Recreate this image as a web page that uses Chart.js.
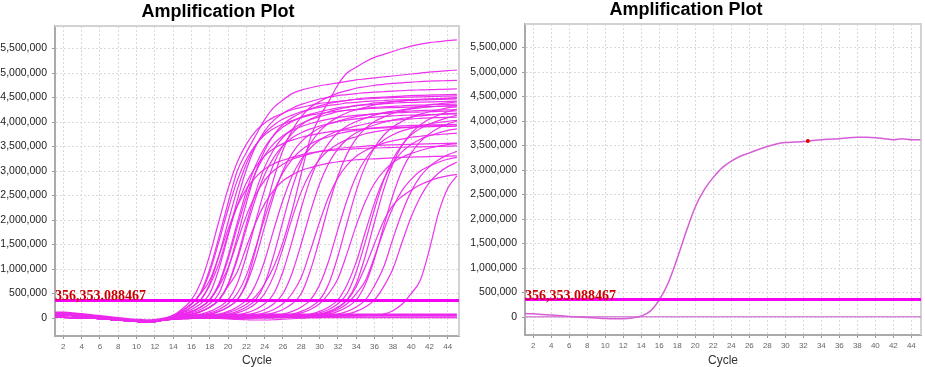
<!DOCTYPE html>
<html lang="en">
<head>
<meta charset="UTF-8">
<title>Amplification Plot</title>
<script src="https://cdn.jsdelivr.net/npm/chart.js"></script>
<style>
    html, body {
        margin: 0;
        padding: 0;
        background: #ffffff;
        width: 925px;
        height: 367px;
        overflow: hidden;
    }
    #wrap {
        position: relative;
        width: 925px;
        height: 367px;
    }
    canvas {
        position: absolute;
        top: 0;
    }
    #leftChart { left: 0; }
    #rightChart { left: 462px; }
    .plot-title {
        position: absolute;
        width: 220px;
        text-align: center;
        font: bold 18px "Liberation Sans", Arial, sans-serif;
        line-height: 18px;
        color: #000;
    }
</style>
</head>
<body>
<div id="wrap">
    <canvas id="leftChart" width="462" height="367"></canvas>
    <canvas id="rightChart" width="463" height="367"></canvas>
    <div class="plot-title" style="left:108px; top:2px;">Amplification Plot</div>
    <div class="plot-title" style="left:576px; top:0px;">Amplification Plot</div>
</div>

<script>
// ---- data (fluorescence values in thousands) ----
const cycles = [1,2,3,4,5,6,7,8,9,10,11,12,13,14,15,16,17,18,19,20,21,22,23,24,25,26,27,28,29,30,
                31,32,33,34,35,36,37,38,39,40,41,42,43,44,45];
const xTicks = [2,4,6,8,10,12,14,16,18,20,22,24,26,28,30,32,34,36,38,40,42,44];
const yTicks = [0,500000,1000000,1500000,2000000,2500000,3000000,3500000,4000000,4500000,5000000,5500000];
const threshold = 356353.088467;
const thresholdText = '356,353.088467';
const thresholdCycles = [1, 45.5];

// cycles 1-12 (baseline shapes)
const baseA = [105,100,88,70,50,30,10,-10,-30,-45,-55,-50];
const baseB = [60,58,50,40,25,10,-8,-25,-40,-55,-62,-58];
const baseC = [15,12,8,2,-5,-15,-28,-42,-58,-70,-78,-72];

// cycles 13-45, left plate wells
const e1 = [-10,60,160,280,520,1000,1650,2350, 3000,3380,3720,4050,4300,4450,4580,4650,4700,4740, 4770,4800,4830,4860,4880,4900,4920,4940,4960,4980, 5000,5020,5035,5050,5060];
const e2 = [-15,50,190,370,720,1290,1980,2640, 3180,3550,3810,3980,4100,4180,4250,4300,4340,4380, 4400,4420,4440,4460,4470,4480,4490,4500,4505,4510, 4515,4520,4525,4530,4535];
const e3 = [-20,30,150,290,500,940,1560,2220, 2810,3240,3530,3740,3870,3960,4030,4090,4140,4170, 4200,4220,4240,4255,4270,4280,4290,4295,4300,4305, 4310,4315,4320,4325,4330];
const e4 = [-25,20,110,220,370,700,1270,1960, 2620,3150,3520,3770,3940,4060,4140,4210,4260,4300, 4340,4360,4390,4400,4420,4430,4440,4450,4455,4460, 4465,4470,4475,4480,4485];
const e5 = [-20,25,120,225,370,670,1110,1720, 2290,2760,3080,3310,3460,3560,3630,3690,3730,3770, 3800,3820,3840,3850,3860,3870,3880,3885,3890,3895, 3900,3905,3910,3910,3915];
const e6 = [-30,10,105,175,290,500,1000,1680, 2400,3030,3500,3820,4040,4180,4280,4360,4420,4470, 4510,4540,4560,4580,4600,4610,4620,4630,4640,4650, 4655,4660,4665,4670,4675];
const e7 = [-30,0,80,135,225,370,680,1200, 1850,2470,2970,3320,3560,3720,3830,3910,3970,4020, 4060,4090,4115,4135,4150,4165,4175,4185,4192,4200, 4205,4210,4215,4220,4225];
const e8 = [-25,10,75,130,220,370,700,1260, 1940,2590,3110,3480,3730,3900,4010,4100,4160,4210, 4250,4290,4310,4330,4350,4360,4375,4385,4395,4400, 4405,4410,4415,4420,4425];
const e9 = [-20,5,80,135,225,370,650,1020, 1560,2090,2510,2810,3010,3140,3240,3300,3350,3400, 3430,3460,3480,3490,3510,3520,3530,3535,3540,3545, 3550,3555,3560,3565,3570];
const e10 = [-30,0,65,105,175,290,500,1000, 1650,2350,2970,3420,3740,3950,4090,4190,4270,4330, 4380,4410,4440,4470,4490,4500,4510,4520,4530,4540, 4545,4550,4555,4560,4565];
const e11 = [-35,-5,50,80,135,225,370,680, 1190,1830,2440,2930,3280,3520,3680,3780,3860,3920, 3970,4010,4040,4065,4085,4100,4115,4125,4135,4140, 4145,4150,4155,4160,4165];
const e12 = [-30,0,45,75,130,220,370,690, 1240,1920,2560,3080,3440,3690,3850,3970,4050,4110, 4160,4210,4240,4260,4280,4300,4310,4320,4330,4340, 4345,4350,4355,4360,4365];
const e13 = [-25,5,45,75,130,220,370,650, 940,1450,1940,2330,2610,2800,2920,3010,3070,3120, 3160,3190,3210,3230,3240,3250,3260,3270,3280,3285, 3290,3295,3300,3305,3310];
const e14 = [-15,35,150,290,500,770,1270,1810, 2280,2630,2870,3040,3150,3220,3280,3330,3370,3395, 3415,3430,3445,3455,3465,3470,3475,3480,3485,3490, 3495,3500,3505,3510,3515];
const a1 = [-40,-5,35,50,80,135,225,370, 700,1270,1960,2620,3150,3520,3770,3940,4060,4140, 4210,4260,4300,4340,4360,4390,4400,4420,4430,4440, 4450,4455,4460,4465,4470];
const a2 = [-35,0,30,42,65,105,175,290, 500,870,1430,2040,2580,2970,3240,3430,3550,3640, 3700,3760,3800,3830,3860,3880,3895,3910,3920,3930, 3935,3940,3945,3950,3955];
const a3 = [-40,-10,25,35,50,80,135,225, 370,690,1210,1870,2500,3010,3360,3600,3760,3880, 3960,4020,4070,4110,4140,4165,4185,4200,4215,4225, 4235,4240,4245,4250,4255];
const a4 = [-35,-5,25,35,50,80,135,225, 370,730,1390,2140,2850,3430,3830,4110,4300,4420, 4510,4590,4640,4690,4720,4750,4770,4790,4800,4815, 4825,4835,4840,4845,4850];
const a5 = [-40,-10,15,20,25,40,65,110, 180,280,440,700,1050,1550,2200,2950,3680,4100, 4420,4760,5000,5120,5230,5320,5380,5440,5500,5550, 5590,5620,5640,5660,5675];
const a6 = [-35,-5,20,25,35,50,80,135, 225,370,680,1170,1810,2410,2900,3240,3470,3630, 3740,3820,3870,3920,3960,3990,4015,4035,4050,4065, 4075,4085,4090,4095,4100];
const b1 = [-40,-15,15,20,25,35,50,80, 135,225,370,700,1290,1980,2650,3180,3560,3810, 3980,4100,4190,4250,4300,4350,4380,4410,4430,4450, 4460,4470,4480,4490,4500];
const b2 = [-35,-10,10,18,22,30,42,65, 105,175,290,500,870,1430,2040,2580,2970,3240, 3430,3550,3640,3700,3760,3800,3830,3860,3880,3895, 3910,3920,3930,3935,3940];
const b3 = [-40,-15,0,10,18,22,30,42, 65,105,175,290,500,950,1570,2250,2840,3270, 3570,3780,3920,4010,4080,4140,4190,4220,4250,4270, 4290,4310,4320,4330,4340];
const b4 = [-35,-15,5,10,15,18,22,30, 42,65,105,175,290,500,920,1520,2170,2740, 3160,3450,3650,3780,3870,3940,3995,4040,4075,4100, 4125,4143,4158,4170,4180];
const b5 = [-40,-20,0,5,10,15,18,22, 30,42,65,105,175,290,500,830,1380,1960, 2480,2860,3120,3300,3420,3500,3570,3615,3650,3690, 3710,3730,3745,3760,3770];
const b6 = [-40,-20,0,5,10,12,15,18, 22,30,42,65,105,175,290,500,975,1610, 2300,2900,3350,3660,3870,4010,4100,4180,4230,4280, 4320,4350,4370,4390,4410];
const c1 = [-40,-20,-10,-5,0,5,8,10, 15,20,25,35,50,80,135,225,370,680, 1170,1810,2410,2900,3240,3470,3630,3740,3820,3870, 3920,3960,3990,4015,4035];
const c2 = [-45,-25,-15,-10,-5,0,5,8, 10,15,20,25,35,50,80,135,225,370, 700,1260,1940,2590,3110,3480,3730,3900,4010,4100, 4160,4210,4250,4290,4310];
const c3 = [-40,-20,-10,-5,0,5,8,10, 12,15,18,22,30,42,65,105,175,290, 500,800,1320,1890,2380,2750,3000,3170,3280,3360, 3420,3470,3510,3540,3560];
const c4 = [-45,-25,-15,-10,-5,0,3,5, 8,10,12,15,18,22,30,42,65,105, 175,290,500,940,1560,2220,2810,3240,3530,3740, 3870,3960,4030,4090,4140];
const d1 = [-45,-25,-15,-10,-8,-5,0,3, 5,8,10,15,20,25,35,50,80,135, 225,370,680,1140,1760,2350,2830,3160,3390,3540, 3650,3720,3780,3830,3860];
const d2 = [-40,-20,-10,-5,-3,0,3,5, 5,8,10,12,15,20,25,35,50,80, 135,225,370,700,1270,1960,2620,3150,3520,3770, 3940,4060,4140,4210,4260];
const d3 = [-40,-20,-10,-8,-5,-2,0,3, 5,8,10,12,15,18,22,30,42,65, 105,175,290,500,760,1250,1780,2250,2600,2830, 3000,3100,3180,3240,3280];
const d4 = [-40,-20,-10,-8,-5,-3,0,2, 4,5,6,8,10,12,15,30,45,70, 120,210,360,640,1050,1520,1980,2300,2480,2610, 2720,2800,2860,2900,2930];
const d5 = [-45,-25,-15,-10,-8,-5,-3,0, 3,5,5,8,10,12,15,22,35,50, 80,135,225,370,690,1210,1870,2500,3010,3360, 3600,3760,3880,3960,4020];
const d6 = [-40,-20,-10,-8,-5,-3,0,2, 4,5,6,8,10,12,15,18,25,35, 50,80,135,225,370,660,1040,1610,2150,2580, 2890,3090,3230,3330,3400];
const d7 = [-40,-25,-15,-10,-8,-5,-3,0, 2,3,5,5,8,10,12,15,20,25, 35,50,80,135,225,370,640,1000,1540,2060, 2470,2770,2960,3090,3180];
const v1 = [-40,-20,-10,-5,-3,0,3,5, 8,10,12,15,18,20,22,25,28,30, 32,35,38,42,50,60,80,150,280,500, 770,1400,2150,2650,2900];
const f1 = [-20,20,35,45,50,55,55,55, 55,58,58,60,60,60,60,60,60,60, 60,60,60,60,60,60,60,60,60,60, 60,60,62,62,62];
const f2 = [-25,10,8,5,5,5,5,5, 5,5,5,5,5,5,5,5,5,5, 5,5,5,5,5,5,5,5,5,5, 5,5,5,5,5];
const f3 = [-30,0,10,10,5,0,-10,-20, -30,-35,-40,-40,-35,-25,-15,-5,5,10, 15,15,18,20,20,20,20,20,20,20, 20,20,20,20,20];

const leftWells = [
    [baseA, e1], [baseA, e2], [baseA, e3], [baseA, e4], [baseA, e5], [baseA, e6], [baseA, e7],
    [baseA, e8], [baseA, e9], [baseA, e10], [baseA, e11], [baseA, e12], [baseA, e13], [baseA, e14],
    [baseB, a1], [baseB, a2], [baseB, a3], [baseB, a4], [baseB, a5], [baseB, a6],
    [baseB, b1], [baseB, b2], [baseB, b3], [baseB, b4], [baseB, b5], [baseB, b6],
    [baseC, c1], [baseC, c2], [baseC, c3], [baseC, c4],
    [baseC, d1], [baseC, d2], [baseC, d3], [baseC, d4], [baseC, d5], [baseC, d6], [baseC, d7],
    [baseC, v1], [baseB, f3], [baseC, f2]
];
const leftThick = [baseA, f1];

// right plate, one well
const rightWell = [70,65,52,40,25,10,0,-10,-20,-30, -35,-35,-20,20,120,350,700,1200,1750,2250,
                   2600,2850,3050,3180,3280,3350,3420,3480,3530,3560, 3570,3580,3600,3620,3630,3640,3660,3670,3670,3660,
                   3640,3620,3640,3620,3620];
const rightFlatCycles = [1, 45.5];
const rightFlat = [5, 5];
const dotCycle = [32.5];
const dotValue = [3590];

// ---- drawing ----
const FONT = '"Liberation Sans", Arial, sans-serif';

function series(xs, ys, k) {
    return xs.map((x, i) => ({ x: x, y: ys[i] * k }));
}

const framePlugin = {
    id: 'frame',
    beforeDatasetsDraw(chart) {
        const a = chart.chartArea, ctx = chart.ctx;
        ctx.save();
        ctx.strokeStyle = '#d2d2d2';
        ctx.lineWidth = 2;
        ctx.beginPath();
        ctx.moveTo(a.left, a.top);
        ctx.lineTo(a.right, a.top);
        ctx.lineTo(a.right, a.bottom);
        ctx.stroke();
        ctx.restore();
    }
};

const thresholdLabel = {
    id: 'thresholdLabel',
    afterDatasetsDraw(chart, args, opts) {
        const ctx = chart.ctx;
        const y = chart.scales.y.getPixelForValue(threshold);
        ctx.save();
        ctx.font = 'bold 14px "Liberation Serif", "Times New Roman", serif';
        ctx.fillStyle = '#cc0000';
        ctx.textBaseline = 'alphabetic';
        ctx.textAlign = 'left';
        ctx.fillText(thresholdText, chart.chartArea.left, y + (opts.dy || 0));
        ctx.restore();
    }
};

function makeOptions(cfg) {
    return {
        responsive: false,
        animation: false,
        events: [],
        layout: { padding: { top: cfg.top, right: 3, left: 0, bottom: 0 } },
        plugins: {
            legend: { display: false },
            tooltip: { enabled: false },
            thresholdLabel: { dy: cfg.labelDy }
        },
        elements: {
            point: { radius: 0 },
            line: { cubicInterpolationMode: 'monotone' }
        },
        scales: {
            x: {
                type: 'linear',
                min: cfg.xMin,
                max: cfg.xMax,
                afterBuildTicks: s => { s.ticks = xTicks.map(v => ({ value: v })); },
                afterFit: s => { s.height = cfg.xAxisH; },
                ticks: { autoSkip: false, maxRotation: 0, padding: 3, color: '#666', font: { size: 8, family: FONT } },
                grid: { color: '#dadada', lineWidth: 1, tickLength: 3, tickColor: '#999' },
                border: { color: '#aaaaaa', width: 2, dash: [2, 2] },
                title: { display: true, text: 'Cycle', color: '#333', padding: 0, font: { size: 12, family: FONT, lineHeight: 1 } }
            },
            y: {
                min: cfg.yMin,
                max: cfg.yMax,
                afterBuildTicks: s => { s.ticks = yTicks.map(v => ({ value: v })); },
                afterFit: s => { s.width = cfg.yAxisW; },
                ticks: {
                    padding: 5, color: '#222', font: { size: 10.5, family: FONT },
                    callback: v => v.toLocaleString('en-US')
                },
                grid: { color: '#dadada', lineWidth: 1, tickLength: 3, tickColor: '#999' },
                border: { color: '#aaaaaa', width: 2, dash: [2, 2] }
            }
        }
    };
}

// left chart
const leftSets = [{
    data: series(thresholdCycles, [threshold, threshold], 1),
    borderColor: '#f400f4', borderWidth: 3, cubicInterpolationMode: 'default', tension: 0
}];
leftSets.push({
    data: series(cycles, leftThick[0].concat(leftThick[1]), 1000),
    borderColor: 'rgb(236,40,236)', borderWidth: 3
});
leftWells.forEach(w => {
    leftSets.push({
        data: series(cycles, w[0].concat(w[1]), 1000),
        borderColor: 'rgba(236,40,236,0.95)', borderWidth: 1.2
    });
});

new Chart(document.getElementById('leftChart'), {
    type: 'line',
    data: { datasets: leftSets },
    options: makeOptions({ top: 26, xMin: 1.09, xMax: 45.23, yMin: -367000, yMax: 5960000, xAxisH: 31, yAxisW: 55, labelDy: -0.5 }),
    plugins: [framePlugin, thresholdLabel]
});

// right chart
new Chart(document.getElementById('rightChart'), {
    type: 'line',
    data: {
        datasets: [
            {
                data: series(dotCycle, dotValue, 1000),
                showLine: false, pointRadius: 2, pointBackgroundColor: '#e00000', pointBorderWidth: 0
            },
            {
                data: series(thresholdCycles, [threshold, threshold], 1),
                borderColor: '#f400f4', borderWidth: 3, cubicInterpolationMode: 'default', tension: 0
            },
            {
                data: series(cycles, rightWell, 1000),
                borderColor: '#d65ed6', borderWidth: 1.5
            },
            {
                data: series(rightFlatCycles, rightFlat, 1000),
                borderColor: '#d98bd9', borderWidth: 1.5
            }
        ]
    },
    options: makeOptions({ top: 24, xMin: 1.08, xMax: 45.07, yMin: -367000, yMax: 5980000, xAxisH: 32, yAxisW: 63, labelDy: 0 }),
    plugins: [framePlugin, thresholdLabel]
});
</script>
</body>
</html>
